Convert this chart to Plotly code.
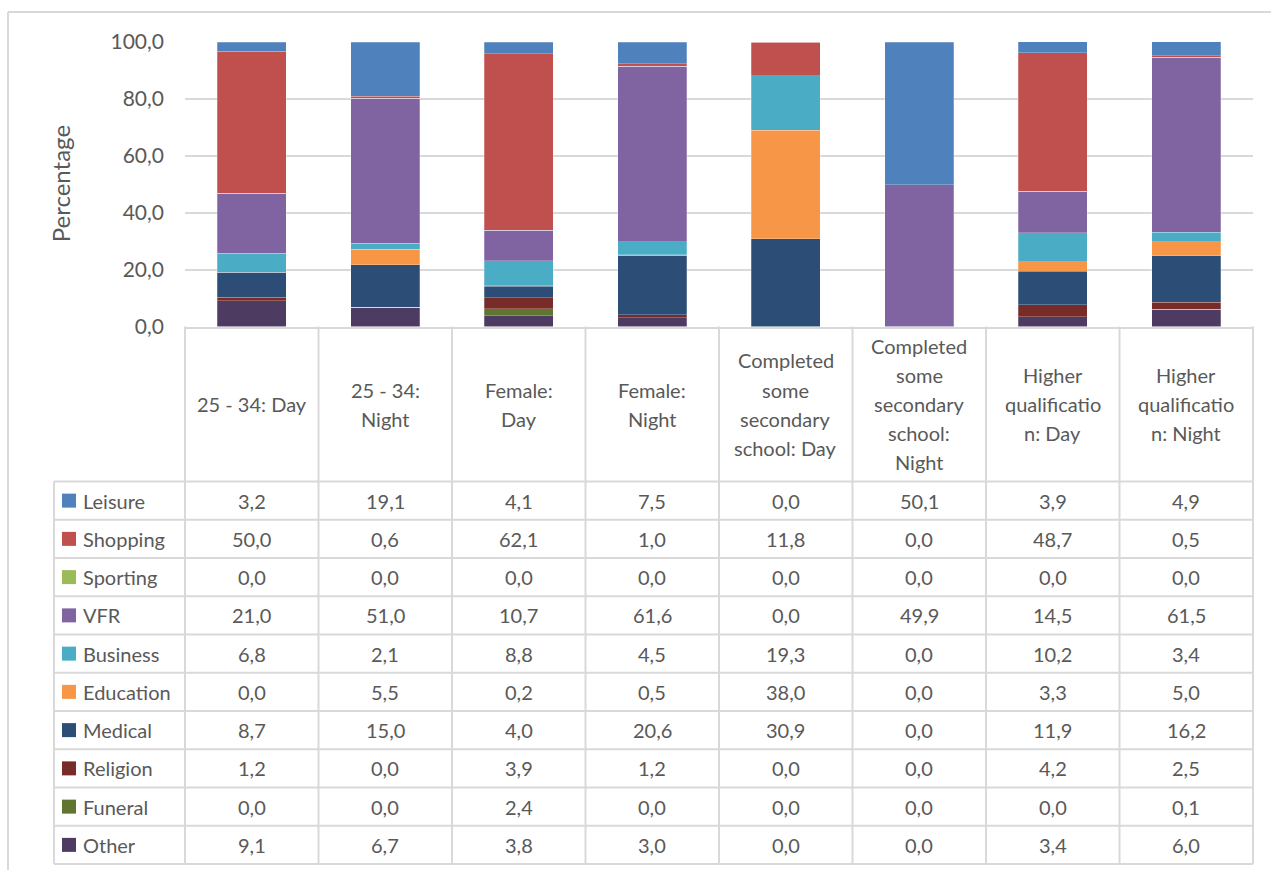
import plotly.graph_objects as go

# Categories (full names) and the wrapped lines shown in the header row
categories = [
    "25 - 34: Day", "25 - 34: Night", "Female: Day", "Female: Night",
    "Completed some secondary school: Day", "Completed some secondary school: Night",
    "Higher qualification: Day", "Higher qualification: Night",
]
header_lines = [
    ["25 - 34: Day"],
    ["25 - 34:", "Night"],
    ["Female:", "Day"],
    ["Female:", "Night"],
    ["Completed", "some", "secondary", "school: Day"],
    ["Completed", "some", "secondary", "school:", "Night"],
    ["Higher", "qualificatio", "n: Day"],
    ["Higher", "qualificatio", "n: Night"],
]

# Series values (percentages), in table row order
leisure = [3.2, 19.1, 4.1, 7.5, 0.0, 50.1, 3.9, 4.9]
shopping = [50.0, 0.6, 62.1, 1.0, 11.8, 0.0, 48.7, 0.5]
sporting = [0.0, 0.0, 0.0, 0.0, 0.0, 0.0, 0.0, 0.0]
vfr = [21.0, 51.0, 10.7, 61.6, 0.0, 49.9, 14.5, 61.5]
business = [6.8, 2.1, 8.8, 4.5, 19.3, 0.0, 10.2, 3.4]
education = [0.0, 5.5, 0.2, 0.5, 38.0, 0.0, 3.3, 5.0]
medical = [8.7, 15.0, 4.0, 20.6, 30.9, 0.0, 11.9, 16.2]
religion = [1.2, 0.0, 3.9, 1.2, 0.0, 0.0, 4.2, 2.5]
funeral = [0.0, 0.0, 2.4, 0.0, 0.0, 0.0, 0.0, 0.1]
other = [9.1, 6.7, 3.8, 3.0, 0.0, 0.0, 3.4, 6.0]

y_ticks = [0, 20, 40, 60, 80, 100]

series = [
    ("Leisure", leisure, "#4F81BD"),
    ("Shopping", shopping, "#C0504D"),
    ("Sporting", sporting, "#9BBB59"),
    ("VFR", vfr, "#8064A2"),
    ("Business", business, "#4BACC6"),
    ("Education", education, "#F79646"),
    ("Medical", medical, "#2C4D75"),
    ("Religion", religion, "#772C2A"),
    ("Funeral", funeral, "#5F7530"),
    ("Other", other, "#4D3B62"),
]

W, H = 1271, 870
FONT = "Lato"
TXT = "#595959"
GRID = "#D9D9D9"
TABLE_SIZE = 20


def px(x):
    return x / W


def py(y):
    return 1 - y / H


# Layout of the plot area and the data table, in pixels
plot_left, plot_right = 185, 1253
plot_top, plot_bottom = 42, 326.5
legend_left = 54
header_bottom = 481.5
row_h = 38.25
n_cols = len(categories)
col_w = (plot_right - plot_left) / n_cols
table_bottom = header_bottom + row_h * len(series)

fig = go.Figure()

# Stack from the bottom row of the table upwards
for name, vals, color in reversed(series):
    fig.add_trace(go.Bar(
        x=categories, y=vals, name=name,
        marker=dict(color=color, line=dict(color="rgba(255,255,255,0.35)", width=0.7)),
        showlegend=False,
    ))

shapes = []
ann = []


def hline(y, x0, x1):
    shapes.append(dict(type="line", xref="paper", yref="paper",
                       x0=px(x0), x1=px(x1), y0=py(y), y1=py(y),
                       line=dict(color=GRID, width=2), layer="above"))


def vline(x, y0, y1):
    shapes.append(dict(type="line", xref="paper", yref="paper",
                       x0=px(x), x1=px(x), y0=py(y0), y1=py(y1),
                       line=dict(color=GRID, width=2), layer="above"))


# Outer chart-area border (left and top edges)
hline(12, 8, W)
vline(8, 12, H)

# Table grid
for i in range(n_cols + 1):
    vline(plot_left + i * col_w, plot_bottom, table_bottom)
vline(legend_left, header_bottom, table_bottom)
for r in range(len(series) + 1):
    hline(header_bottom + r * row_h, legend_left, plot_right)

# Header labels, one annotation per wrapped line
line_gap = 29
header_mid = (plot_bottom + header_bottom) / 2
for i, lines in enumerate(header_lines):
    cx = plot_left + (i + 0.5) * col_w
    n = len(lines)
    for k, t in enumerate(lines):
        yy = header_mid + (k - (n - 1) / 2) * line_gap
        ann.append(dict(x=px(cx), y=py(yy), xref="paper", yref="paper", text=t,
                        showarrow=False, xanchor="center", yanchor="middle",
                        font=dict(family=FONT, size=TABLE_SIZE, color=TXT)))

# Table rows: legend key, series name, and values
for r, (name, vals, color) in enumerate(series):
    cy = header_bottom + (r + 0.5) * row_h
    shapes.append(dict(type="rect", xref="paper", yref="paper",
                       x0=px(62), x1=px(76), y0=py(cy - 7), y1=py(cy + 7),
                       fillcolor=color, line=dict(width=0)))
    ann.append(dict(x=px(81), y=py(cy), xref="paper", yref="paper", text=name,
                    showarrow=False, xanchor="left", yanchor="middle",
                    font=dict(family=FONT, size=TABLE_SIZE, color=TXT)))
    for i, v in enumerate(vals):
        cx = plot_left + (i + 0.5) * col_w
        ann.append(dict(x=px(cx), y=py(cy), xref="paper", yref="paper",
                        text=f"{v:.1f}".replace(".", ","),
                        showarrow=False, xanchor="center", yanchor="middle",
                        font=dict(family=FONT, size=TABLE_SIZE, color=TXT)))

# Y axis title
ann.append(dict(x=px(60), y=py((plot_top + plot_bottom) / 2), xref="paper", yref="paper",
                text="Percentage", textangle=-90, showarrow=False,
                xanchor="center", yanchor="middle",
                font=dict(family=FONT, size=24, color=TXT)))

fig.update_layout(
    width=W, height=H,
    margin=dict(l=0, r=0, t=0, b=0, autoexpand=False),
    paper_bgcolor="white", plot_bgcolor="white",
    barmode="stack", bargap=0.483,
    separators=",.",
    shapes=shapes, annotations=ann,
    xaxis=dict(domain=[px(plot_left), px(plot_right)], showticklabels=False,
               showgrid=False, showline=True, linecolor=GRID, linewidth=2,
               ticks="", fixedrange=True, automargin=False),
    yaxis=dict(domain=[py(plot_bottom), py(plot_top)], range=[0, 100],
               tickvals=y_ticks, tickformat=".1f", showgrid=True,
               gridcolor=GRID, gridwidth=1.5, zeroline=False, showline=False,
               ticks="", ticklabelstandoff=20, automargin=False,
               tickfont=dict(family=FONT, size=21, color=TXT)),
    font=dict(family=FONT, color=TXT),
)

fig.write_html("out.html")
